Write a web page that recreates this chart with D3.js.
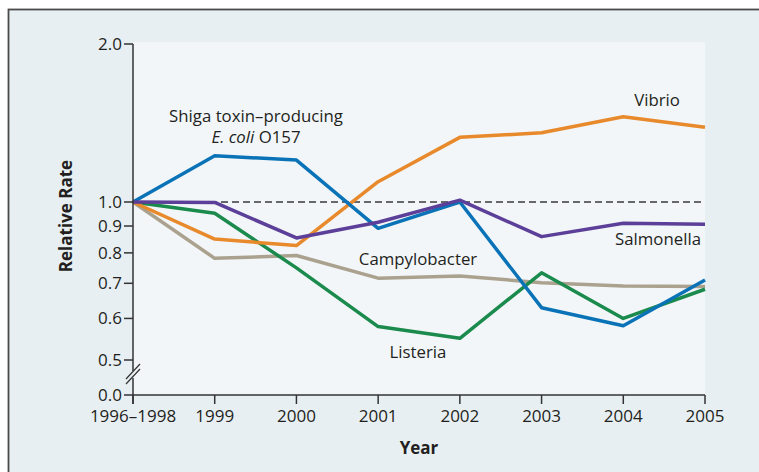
<!DOCTYPE html>
<html lang="en">
<head>
    <meta charset="UTF-8">
    <title>Relative Rate</title>
    <script src="https://d3js.org/d3.v7.min.js"></script>
    <style>
        body { margin: 0; background: #fff; }
        svg text { font-family: "Open Sans", sans-serif; fill: #231f20; }
        .line { fill: none; stroke-width: 3.5px; stroke-linejoin: round; }
    </style>
</head>
<body>
<svg width="759" height="472"></svg>
<script>
    var years = ["1996\u20131998", "1999", "2000", "2001", "2002", "2003", "2004", "2005"];
    var yTicks = [0.5, 0.6, 0.7, 0.8, 0.9, 1.0, 2.0];

    var shiga = [1.0, 1.225, 1.202, 0.891, 1.0, 0.629, 0.581, 0.710];
    var vibrio = [1.0, 0.850, 0.826, 1.093, 1.328, 1.355, 1.454, 1.388];
    var salmonella = [1.0, 0.998, 0.854, 0.915, 1.008, 0.859, 0.911, 0.907];
    var listeria = [1.0, 0.952, 0.749, 0.579, 0.550, 0.733, 0.600, 0.682];
    var campylobacter = [1.0, 0.781, 0.791, 0.716, 0.723, 0.702, 0.692, 0.690];

    var series = [
        { name: "Campylobacter", values: campylobacter, color: "#aaa28e" },
        { name: "Listeria", values: listeria, color: "#1a8a4d" },
        { name: "Vibrio", values: vibrio, color: "#e88a2b" },
        { name: "Shiga", values: shiga, color: "#0a73b7" },
        { name: "Salmonella", values: salmonella, color: "#5c3f98" }
    ];

    var svg = d3.select("svg");

    // panel background and frame
    svg.append("rect").attr("x", 8.5).attr("y", 9.5).attr("width", 800).attr("height", 500)
        .attr("fill", "#e8eff3").attr("stroke", "#4a4a4a").attr("stroke-width", 1.8);

    var plotLeft = 133, plotRight = 705, plotTop = 44, plotBottom = 395;

    var x = d3.scalePoint().domain(years).range([plotLeft, plotRight]);
    var y = d3.scaleLog().domain([0.5, 2]).range([360, plotTop]);

    svg.append("rect").attr("x", plotLeft).attr("y", 42)
        .attr("width", plotRight - plotLeft).attr("height", plotBottom - 42)
        .attr("fill", "#f2f6f9");

    // reference line at 1.0
    svg.append("line").attr("x1", plotLeft).attr("x2", plotRight)
        .attr("y1", y(1)).attr("y2", y(1))
        .attr("stroke", "#3a3a3a").attr("stroke-width", 1.5)
        .attr("stroke-dasharray", "7,4");

    var line = d3.line()
        .x(function (d, i) { return x(years[i]); })
        .y(function (d) { return y(d); });

    svg.append("g").selectAll("path")
        .data(series)
        .enter()
        .append("path")
        .attr("class", "line")
        .attr("stroke", function (d) { return d.color; })
        .attr("d", function (d) { return line(d.values); });

    // y axis (log part + broken stub down to zero)
    var axisColor = "#333";
    var yAxis = svg.append("g");
    yAxis.append("line").attr("x1", plotLeft).attr("x2", plotLeft)
        .attr("y1", plotTop).attr("y2", 371).attr("stroke", axisColor).attr("stroke-width", 1.5);
    yAxis.append("line").attr("x1", plotLeft).attr("x2", plotLeft)
        .attr("y1", 378).attr("y2", plotBottom + 9).attr("stroke", axisColor).attr("stroke-width", 1.5);
    [0, 5].forEach(function (o) {
        yAxis.append("line")
            .attr("x1", plotLeft - 7).attr("y1", 384 - o)
            .attr("x2", plotLeft + 7).attr("y2", 369 - o)
            .attr("stroke", axisColor).attr("stroke-width", 1.2);
    });

    var yt = yAxis.selectAll(".yt").data(yTicks).enter().append("g")
        .attr("transform", function (d) { return "translate(0," + y(d) + ")"; });
    yt.append("line").attr("x1", plotLeft - 9).attr("x2", plotLeft)
        .attr("stroke", axisColor).attr("stroke-width", 1.5);
    yt.append("text").attr("x", plotLeft - 11).attr("dy", "0.35em")
        .attr("text-anchor", "end").style("font-size", "17px")
        .text(function (d) { return d.toFixed(1); });

    yAxis.append("line").attr("x1", plotLeft - 9).attr("x2", plotLeft)
        .attr("y1", plotBottom).attr("y2", plotBottom).attr("stroke", axisColor).attr("stroke-width", 1.5);
    yAxis.append("text").attr("x", plotLeft - 11).attr("y", plotBottom).attr("dy", "0.35em")
        .attr("text-anchor", "end").style("font-size", "17px").text("0.0");

    // x axis
    var xAxis = svg.append("g");
    xAxis.append("line").attr("x1", plotLeft).attr("x2", plotRight)
        .attr("y1", plotBottom).attr("y2", plotBottom).attr("stroke", axisColor).attr("stroke-width", 1.5);
    var xt = xAxis.selectAll(".xt").data(years).enter().append("g")
        .attr("transform", function (d) { return "translate(" + x(d) + "," + plotBottom + ")"; });
    xt.append("line").attr("y1", 0).attr("y2", 9).attr("stroke", axisColor).attr("stroke-width", 1.5);
    xt.append("text").attr("y", 27).attr("text-anchor", "middle")
        .style("font-size", "17px").text(function (d) { return d; });

    // axis titles
    svg.append("text").attr("transform", "translate(72,216) rotate(-90)")
        .attr("text-anchor", "middle").style("font-size", "17px").style("font-weight", "bold")
        .text("Relative Rate");
    svg.append("text").attr("x", 419).attr("y", 454).attr("text-anchor", "middle")
        .style("font-size", "17px").style("font-weight", "bold").text("Year");

    // series labels
    var labels = svg.append("g").style("font-size", "16.8px").attr("text-anchor", "middle");
    labels.append("text").attr("x", 256).attr("y", 122).text("Shiga toxin\u2013producing");
    var ec = labels.append("text").attr("x", 256).attr("y", 143);
    ec.append("tspan").style("font-style", "italic").text("E. coli");
    ec.append("tspan").text(" O157");
    labels.append("text").attr("x", 657).attr("y", 106).text("Vibrio");
    labels.append("text").attr("x", 658).attr("y", 245).text("Salmonella");
    labels.append("text").attr("x", 418).attr("y", 265).text("Campylobacter");
    labels.append("text").attr("x", 418).attr("y", 358).text("Listeria");
</script>
</body>
</html>
